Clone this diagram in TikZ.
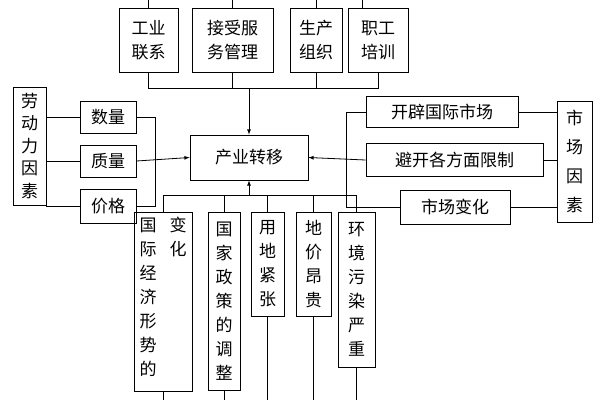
\documentclass[tikz,border=0pt]{standalone}
\usepackage{fontspec}
\newfontfamily\cjk{Noto Sans CJK SC}
\usetikzlibrary{arrows}

\begin{document}
\begin{tikzpicture}[
  x=1pt, y=-1pt,
  >=latex,
  every node/.style={font=\cjk\fontsize{17}{24}\selectfont, align=center},
  box/.style={draw, thick, inner sep=0pt},
  link/.style={thick}
  ]
    \useasboundingbox (0,0) rectangle (600,400);

    % top
    \node[box, minimum width=59pt, minimum height=64pt] (gy) at (148.5,40) {工业\\联系};
    \node[box, minimum width=81pt, minimum height=64pt] (js) at (232.5,40) {接受服\\务管理};
    \node[box, minimum width=52pt, minimum height=64pt] (sc) at (316,40) {生产\\组织};
    \node[box, minimum width=60pt, minimum height=64pt] (zg) at (378,40) {职工\\培训};

    % centre
    \node[box, minimum width=118pt, minimum height=45pt] (zy) at (249,157.5) {产业转移};

    % left
    \node[box, minimum width=33pt, minimum height=118pt, font=\cjk\fontsize{17}{22.5}\selectfont] (ld) at (29.5,146) {劳\\动\\力\\因\\素};
    \node[box, minimum width=56pt, minimum height=32pt] (sl) at (108,117) {数量};
    \node[box, minimum width=56pt, minimum height=32pt] (zl) at (108,161) {质量};
    \node[box, minimum width=56pt, minimum height=34pt] (jg) at (108,206) {价格};

    % right
    \node[box, minimum width=152pt, minimum height=31pt] (kp) at (442,112) {开辟国际市场};
    \node[box, minimum width=177pt, minimum height=33pt] (bk) at (454.5,160) {避开各方面限制};
    \node[box, minimum width=110pt, minimum height=34pt] (sb) at (455,207) {市场变化};
    \node[box, minimum width=35pt, minimum height=121pt] (scy) at (574.5,161.5) {市\\[5pt]场\\[5pt]因\\[5pt]素};

    % bottom
    \node[box, minimum width=58pt, minimum height=179pt] (gj) at (163,301.5) {};
    \node[anchor=north] (gjl) at (148,214) {国\\际\\经\\济\\形\\势\\的};
    \node[anchor=north] (gjr) at (178,214) {变\\化};
    \node[box, minimum width=32pt, minimum height=178pt] (gc) at (224,301) {国\\家\\政\\策\\的\\调\\整};
    \node[box, minimum width=33pt, minimum height=104pt] (yd) at (267.5,264) {用\\地\\紧\\张};
    \node[box, minimum width=35pt, minimum height=104pt] (dj) at (313.5,264) {地\\价\\昂\\贵};
    \node[box, minimum width=37pt, minimum height=155pt] (hj) at (356.5,289.5) {环\\境\\污\\染\\严\\重};

    \coordinate (tj) at (249,88);
    \coordinate (lj) at (155,161);
    \coordinate (rj) at (346,161);
    \coordinate (bj) at (249,195);

    % top links
    \draw[link] (gy.north) -- (gy.north |- 0,0);
    \draw[link] (js.north) -- (js.north |- 0,0);
    \draw[link] (sc.north) -- (sc.north |- 0,0);
    \draw[link] ([xshift=-16pt]zg.north) -- ([xshift=-16pt]zg.north |- 0,0);
    \draw[link] (gy.south) |- (zg.south |- tj) -- (zg.south);
    \draw[link] (js.south) -- (js.south |- tj);
    \draw[link] (sc.south) -- (sc.south |- tj);
    \draw[link, ->] (tj) -- (zy.north);

    % left links
    \draw[link] (ld.east |- sl) -- (sl.west);
    \draw[link] (ld.east |- zl) -- (zl.west);
    \draw[link] (ld.east |- jg) -- (jg.west);
    \draw[link] (sl.east) -| (jg.east -| lj) -- (jg.east);
    \draw[link, ->] (zl.east) -- (zy.west);

    % right links
    \draw[link] (kp.east) -- (scy.west |- kp);
    \draw[link] (bk.east) -- (scy.west |- bk);
    \draw[link] (sb.east) -- (scy.west |- sb);
    \draw[link] (kp.west) -| (sb.west -| rj) -- (sb.west);
    \draw[link, ->] (bk.west) -- (zy.east);

    % bottom links
    \draw[link] (gj.north) |- (hj.north |- bj) -- (hj.north);
    \draw[link] (gc.north) -- (gc.north |- bj);
    \draw[link] (yd.north) -- (yd.north |- bj);
    \draw[link] (dj.north) -- (dj.north |- bj);
    \draw[link, ->] (bj) -- (zy.south);
    \draw[link] (gj.south) -- (gj.south |- 0,400);
    \draw[link] (gc.south) -- (gc.south |- 0,400);
    \draw[link] (yd.south) -- (yd.south |- 0,400);
    \draw[link] (dj.south) -- (dj.south |- 0,400);
    \draw[link] (hj.south) -- (hj.south |- 0,400);
\end{tikzpicture}
\end{document}
